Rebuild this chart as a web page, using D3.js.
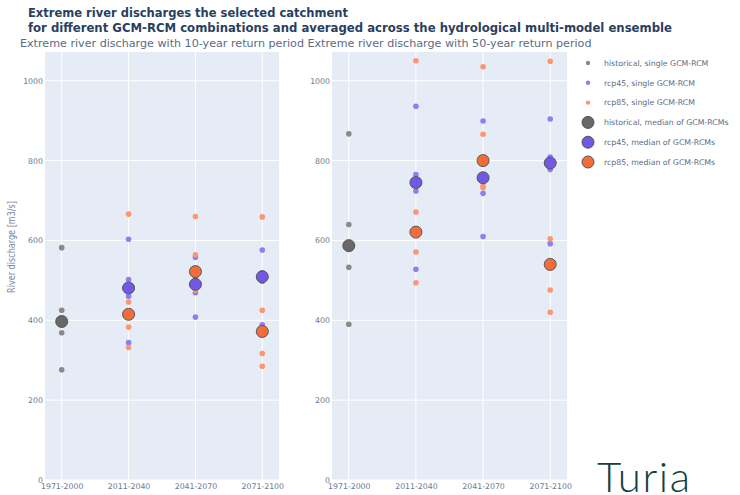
<!DOCTYPE html>
<html>
<head>
<meta charset="utf-8">
<script src="https://cdn.jsdelivr.net/npm/d3@7"></script>
<style>
  body { margin: 0; background: #fff; }
  svg { display: block; font-family: 'DejaVu Sans', Verdana, sans-serif; }
</style>
</head>
<body>
<div class="chart"></div>
<script>
// categories
const periods = ['1971-2000', '2011-2040', '2041-2070', '2071-2100'];
const futures = ['2011-2040', '2041-2070', '2071-2100'];
const yTicks = [0, 200, 400, 600, 800, 1000];

// 10-year return period, single GCM-RCM
const hist10 = [582, 425, 369, 276];
const rcp45_10 = [[603, 502, 460, 344], [558, 509, 469, 408], [576, 519, 498, 389]];
const rcp85_10 = [[666, 446, 383, 332], [660, 564, 482, 476], [659, 425, 317, 285]];
// 10-year, median of GCM-RCMs
const histMed10 = [397];
const rcp45Med10 = [481, 490, 509];
const rcp85Med10 = [415, 522, 372];

// 50-year return period, single GCM-RCM
const hist50 = [867, 640, 533, 390];
const rcp45_50 = [[936, 765, 724, 528], [899, 797, 718, 610], [904, 809, 778, 592]];
const rcp85_50 = [[1050, 671, 571, 494], [1035, 866, 736, 732], [1049, 604, 476, 420]];
// 50-year, median
const histMed50 = [587];
const rcp45Med50 = [745, 757, 794];
const rcp85Med50 = [621, 800, 540];

const legendItems = [
  { name: 'historical, single GCM-RCM', key: 'historical', median: false },
  { name: 'rcp45, single GCM-RCM', key: 'rcp45', median: false },
  { name: 'rcp85, single GCM-RCM', key: 'rcp85', median: false },
  { name: 'historical, median of GCM-RCMs', key: 'historical', median: true },
  { name: 'rcp45, median of GCM-RCMs', key: 'rcp45', median: true },
  { name: 'rcp85, median of GCM-RCMs', key: 'rcp85', median: true }
];

const singleColor = { historical: '#8a8a8a', rcp45: '#8e7ef4', rcp85: '#fb9671' };
const medianColor = { historical: '#686868', rcp45: '#7258e4', rcp85: '#f36d3a' };

const W = 740, H = 495;
const plotTop = 52, plotBottom = 480;

let svg = d3.select('.chart')
  .append('svg')
  .attr('width', W)
  .attr('height', H);

// title
let title = svg.append('text')
  .attr('x', 28)
  .attr('y', 17)
  .attr('fill', '#2a3f5f')
  .style('font-size', '11.5px')
  .style('font-weight', 'bold');
title.append('tspan')
  .attr('x', 28)
  .attr('textLength', 320)
  .attr('lengthAdjust', 'spacingAndGlyphs')
  .text('Extreme river discharges the selected catchment');
title.append('tspan')
  .attr('x', 28)
  .attr('dy', 14.5)
  .attr('textLength', 644)
  .attr('lengthAdjust', 'spacingAndGlyphs')
  .text('for different GCM-RCM combinations and averaged across the hydrological multi-model ensemble');

const y = d3.scaleLinear().domain([0, 1072]).range([plotBottom, plotTop]);

function points(hist, rcp45, rcp85) {
  let out = [];
  hist.forEach(v => out.push({ p: periods[0], v, key: 'historical' }));
  rcp45.forEach((arr, i) => arr.forEach(v => out.push({ p: futures[i], v, key: 'rcp45' })));
  rcp85.forEach((arr, i) => arr.forEach(v => out.push({ p: futures[i], v, key: 'rcp85' })));
  return out;
}

function medians(hist, rcp45, rcp85) {
  let out = [];
  hist.forEach(v => out.push({ p: periods[0], v, key: 'historical' }));
  rcp45.forEach((v, i) => out.push({ p: futures[i], v, key: 'rcp45' }));
  rcp85.forEach((v, i) => out.push({ p: futures[i], v, key: 'rcp85' }));
  return out;
}

function panel(x0, x1, subtitle, singles, meds) {
  const x = d3.scalePoint().domain(periods).range([x0, x1]).padding(0.25);
  let g = svg.append('g');

  g.append('rect')
    .attr('x', x0)
    .attr('y', plotTop)
    .attr('width', x1 - x0)
    .attr('height', plotBottom - plotTop)
    .attr('fill', '#e5ecf6');

  // grid
  g.selectAll('.hgrid').data(yTicks).enter().append('line')
    .attr('x1', x0).attr('x2', x1)
    .attr('y1', d => y(d)).attr('y2', d => y(d))
    .attr('stroke', '#fff').attr('stroke-width', 1);
  g.selectAll('.vgrid').data(periods).enter().append('line')
    .attr('x1', d => x(d)).attr('x2', d => x(d))
    .attr('y1', plotTop).attr('y2', plotBottom)
    .attr('stroke', '#fff').attr('stroke-width', 1);

  // axes
  let ya = g.append('g')
    .attr('transform', 'translate(' + x0 + ',0)')
    .call(d3.axisLeft(y).tickValues(yTicks).tickFormat(d3.format('d')).tickSize(0).tickPadding(2));
  let xa = g.append('g')
    .attr('transform', 'translate(0,' + plotBottom + ')')
    .call(d3.axisBottom(x).tickSize(0).tickPadding(3));
  [ya, xa].forEach(a => {
    a.select('.domain').remove();
    a.selectAll('text')
      .attr('fill', '#6a7891')
      .style('font-family', "'DejaVu Sans', Verdana, sans-serif")
      .style('font-size', '7.8px');
  });

  g.append('text')
    .attr('x', (x0 + x1) / 2)
    .attr('y', 47)
    .attr('text-anchor', 'middle')
    .attr('fill', '#5c6b84')
    .attr('textLength', 284)
    .attr('lengthAdjust', 'spacingAndGlyphs')
    .style('font-size', '10.5px')
    .text(subtitle);

  g.selectAll('.single').data(singles).enter().append('circle')
    .attr('cx', d => x(d.p))
    .attr('cy', d => y(d.v))
    .attr('r', 2.8)
    .attr('fill', d => singleColor[d.key]);

  g.selectAll('.median').data(meds).enter().append('circle')
    .attr('cx', d => x(d.p))
    .attr('cy', d => y(d.v))
    .attr('r', 6)
    .attr('fill', d => medianColor[d.key])
    .attr('stroke', '#555')
    .attr('stroke-width', 1);
}

panel(45, 279, 'Extreme river discharge with 10-year return period',
  points(hist10, rcp45_10, rcp85_10), medians(histMed10, rcp45Med10, rcp85Med10));
panel(332, 567, 'Extreme river discharge with 50-year return period',
  points(hist50, rcp45_50, rcp85_50), medians(histMed50, rcp45Med50, rcp85Med50));

// y axis label
svg.append('text')
  .attr('transform', 'translate(15,247) rotate(-90)')
  .attr('text-anchor', 'middle')
  .attr('fill', '#7887a2')
  .attr('textLength', 92)
  .attr('lengthAdjust', 'spacingAndGlyphs')
  .style('font-size', '10px')
  .text('River discharge [m3/s]');

// legend
let legend = svg.append('g')
  .selectAll('g')
  .data(legendItems)
  .enter()
  .append('g')
  .attr('transform', (d, i) => 'translate(588,' + (63 + i * 19.8) + ')');
legend.append('circle')
  .attr('r', d => d.median ? 6 : 2.2)
  .attr('fill', d => d.median ? medianColor[d.key] : singleColor[d.key])
  .attr('stroke', d => d.median ? '#555' : 'none');
legend.append('text')
  .attr('x', 16)
  .attr('dy', '0.35em')
  .attr('fill', '#5c6b84')
  .style('font-size', '7.8px')
  .text(d => d.name);

// catchment name
svg.append('text')
  .attr('x', 597)
  .attr('y', 492)
  .attr('fill', '#17403d')
  .attr('textLength', 93)
  .style('font-family', 'Lato, sans-serif')
  .style('font-weight', 300)
  .style('font-size', '42px')
  .text('Turia');
</script>
</body>
</html>
